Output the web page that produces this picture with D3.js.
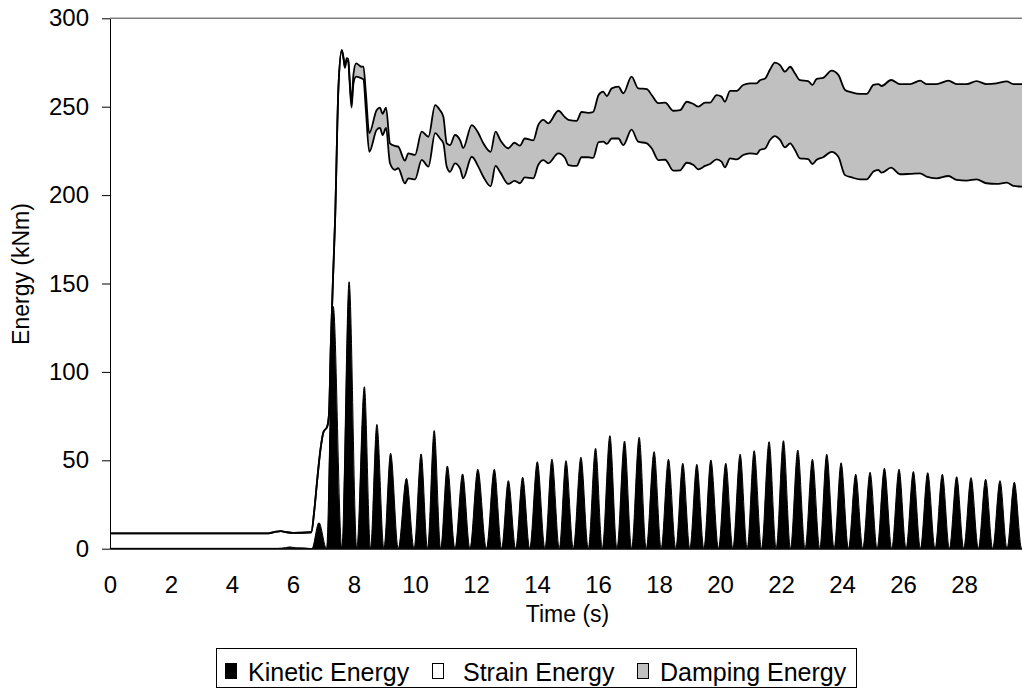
<!DOCTYPE html>
<html>
<head>
<meta charset="utf-8">
<script src="https://cdn.jsdelivr.net/npm/d3@7"></script>
<style>
  body { margin: 0; background: #fff; }
  svg { display: block; font-family: "Liberation Sans", Arial, sans-serif; }
</style>
</head>
<body>
<svg width="1022" height="689"></svg>
<script>
// sample times (s) for the two upper curves
const lineTime = [0, 5.2, 5.45, 5.6, 5.8, 6.0, 6.6, 6.7, 6.8, 6.9, 7.0, 7.12, 7.18, 7.24, 7.31, 7.38, 7.49,
  7.6, 7.66, 7.7, 7.76, 7.81, 7.86, 7.92, 7.98, 8.07, 8.25, 8.31, 8.39, 8.5, 8.74, 8.85, 8.94, 9.05,
  9.18, 9.34, 9.45, 9.67, 9.78, 10.0, 10.22, 10.44, 10.66, 10.82, 10.93, 11.04, 11.15, 11.31, 11.48,
  11.58, 11.86, 12.08, 12.24, 12.48, 12.64, 12.8, 13.06, 13.26, 13.44, 13.6, 13.88, 14.04, 14.21,
  14.37, 14.7, 14.92, 15.03, 15.3, 15.46, 15.68, 15.84, 16.02, 16.17, 16.29, 16.45, 16.67, 16.83,
  17.1, 17.32, 17.6, 17.76, 17.98, 18.2, 18.47, 18.69, 18.91, 19.13, 19.29, 19.51, 19.67, 19.89,
  20.05, 20.16, 20.33, 20.55, 20.76, 20.98, 21.2, 21.31, 21.48, 21.64, 21.8, 21.97, 22.13, 22.3,
  22.46, 22.62, 22.89, 23.03, 23.17, 23.38, 23.66, 23.88, 24.1, 24.32, 24.59, 24.81, 25.03, 25.19,
  25.3, 25.61, 25.9, 26.23, 26.56, 26.77, 27.1, 27.49, 27.76, 28.09, 28.41, 28.74, 29.07, 29.4,
  29.62, 29.9, 30.0];

// kinetic + strain energy (top of the white band), kNm
const mechanicalEnergy = [8.7, 8.7, 9.6, 9.9, 9.3, 9.0, 9.3, 22, 40, 56, 66, 69, 76, 115, 152, 186, 261,
  282, 276.5, 272, 276, 275.5, 263, 249.5, 263, 267, 266, 265.4, 248, 224.5, 236.8, 238, 234, 238,
  218, 214.3, 215.2, 206.6, 209.5, 208.9, 219.9, 216.1, 235, 232, 229.3, 216.1, 213.2, 218, 215,
  209.5, 221.7, 216, 210.4, 205, 216.5, 212.7, 206.3, 208, 206.7, 210, 209.5, 217, 219.8,
  218, 223.6, 221, 217, 216.5, 221.4, 221.4, 221, 230, 230.2, 229, 232, 232, 228.3,
  237, 230.2, 229.3, 226.5, 219.8, 220, 213.8, 214, 218.3, 217, 214.6, 216.5, 217.6, 220.2,
  218.9, 215.7, 220.8, 220.2, 222.7, 223.6, 223.2, 225.5, 226.4, 231.2, 233.4, 231.2, 227, 229.3,
  225.5, 220.8, 220.4, 217.6, 220, 221.4, 224.5, 221.7, 211.3, 210, 208.9, 208.9, 213.3, 214.2,
  212.7, 215.5, 211.8, 212, 212.3, 210.5, 209.5, 210.8, 208.6, 208.2, 208.9, 206.7, 206.3, 207,
  205.2, 204.8, 205];

// kinetic + strain + damping energy (top of the grey band), kNm
const totalEnergy = [8.7, 8.7, 9.6, 9.9, 9.3, 9.0, 9.3, 22, 40, 56, 66, 69, 76, 115, 152, 186, 261,
  282, 277.5, 273, 277.5, 277, 265, 251.5, 268, 274.5, 272.6, 272.7, 257.5, 235, 248, 249.5, 246, 249.5,
  229.3, 227.8, 227.4, 219.5, 223.6, 222.7, 235.9, 233, 250.9, 248, 244.3, 229.3, 228.3, 234, 231,
  226.6, 239.6, 235, 229.3, 224.5, 235.9, 231, 226.5, 229.6, 228, 232, 231, 239.6, 242.5,
  240.6, 247.7, 244, 242.5, 242, 247, 246.5, 247, 256.6, 258.5, 256, 260.4, 261.3, 257.6,
  267, 260.4, 260, 256.6, 252, 252.3, 247.7, 248, 252.8, 251.5, 250, 252.3, 252.3, 256.6,
  255.7, 252.8, 259, 259, 262.3, 263.2, 263.2, 265, 266, 271, 274.9, 273.5, 269.8, 272.6,
  268.8, 265, 264.5, 262.3, 265.7, 266.3, 270.4, 268, 259.5, 258.1, 257.2, 257.2, 262.3, 262.8,
  261.7, 265.1, 262.8, 262.8, 264.7, 262.8, 262.8, 264.7, 262.8, 262.8, 264.5, 262.8, 263.2, 264.3,
  262.8, 262.8, 263];

// kinetic energy: troughs and peaks of the oscillation
const kineticTime = [0, 5.5, 5.75, 5.9, 6.1, 6.4, 6.62, 6.85, 7.1, 7.32, 7.6, 7.84, 8.09, 8.34, 8.54,
  8.75, 8.98, 9.2, 9.45, 9.72, 9.97, 10.2, 10.41, 10.63, 10.84, 11.06, 11.31, 11.56, 11.8, 12.06,
  12.34, 12.6, 12.84, 13.06, 13.3, 13.53, 13.76, 14.01, 14.26, 14.49, 14.73, 14.95, 15.19, 15.44,
  15.68, 15.92, 16.14, 16.39, 16.62, 16.87, 17.1, 17.35, 17.58, 17.84, 18.07, 18.31, 18.55, 18.78,
  19.01, 19.24, 19.47, 19.7, 19.95, 20.19, 20.42, 20.66, 20.89, 21.12, 21.36, 21.61, 21.84, 22.08,
  22.31, 22.55, 22.79, 23.03, 23.27, 23.5, 23.74, 23.97, 24.21, 24.45, 24.68, 24.92, 25.15, 25.39,
  25.63, 25.87, 26.1, 26.34, 26.57, 26.81, 27.05, 27.29, 27.52, 27.76, 27.99, 28.23, 28.47, 28.71,
  28.94, 29.18, 29.41, 29.65, 29.89, 30.12];
const kineticEnergy = [0.2, 0.2, 0.6, 1.0, 0.5, 0.4, 0, 14.7, 0, 137, 0, 151, 0, 91.6, 0,
  70.3, 0, 54, 0, 39.8, 0, 53.6, 0, 66.8, 0, 46.8, 0, 42.3, 0, 44.9,
  0, 44.9, 0, 38.5, 0, 40.4, 0, 49.2, 0, 50.6, 0, 49.8, 0, 51.7,
  0, 56.8, 0, 63.9, 0, 60.9, 0, 63, 0, 54.9, 0, 50.6, 0, 48.3,
  0, 47.7, 0, 50.2, 0, 48.3, 0, 53.4, 0, 55.4, 0, 60.5, 0, 61.1,
  0, 55.8, 0, 50.6, 0, 53.4, 0, 48.6, 0, 42.1, 0, 43.2, 0, 45.5,
  0, 44.9, 0, 43.6, 0, 43, 0, 42.1, 0, 40.7, 0, 40.2, 0, 39.3,
  0, 38.5, 0, 37.6, 0, 37];

const xTicks = d3.range(0, 29, 2);
const yTicks = [0, 50, 100, 150, 200, 250, 300];
const legendNames = ["Kinetic Energy", "Strain Energy", "Damping Energy"];
const legendFills = ["#000000", "#ffffff", "#c0c0c0"];

const svg = d3.select("svg");
const area = { left: 110, right: 1025, top: 18.3, bottom: 548.7 };

const scX = d3.scaleLinear().domain([0, 30]).range([area.left, area.right]);
const scY = d3.scaleLinear().domain([0, 300]).range([area.bottom, area.top]);

const lineRows = lineTime.map((t, i) => ({ t, mech: mechanicalEnergy[i], total: totalEnergy[i] }));
const kinRows = kineticTime.map((t, i) => ({ t, v: kineticEnergy[i] }));

const plot = svg.append("g");
const curve = d3.curveMonotoneX;

// grey band (damping) then white band (strain) then black spikes (kinetic)
plot.append("path")
  .datum(lineRows)
  .attr("fill", "#c0c0c0")
  .attr("d", d3.area().curve(curve).x(d => scX(d.t)).y0(scY(0)).y1(d => scY(d.total)));
plot.append("path")
  .datum(lineRows)
  .attr("fill", "#ffffff")
  .attr("d", d3.area().curve(curve).x(d => scX(d.t)).y0(scY(0)).y1(d => scY(d.mech)));
plot.append("path")
  .datum(kinRows)
  .attr("fill", "#000000")
  .attr("stroke", "#000")
  .attr("stroke-width", 1)
  .attr("d", d3.area().curve(curve).x(d => scX(d.t)).y0(scY(0)).y1(d => scY(d.v)));

plot.append("path")
  .datum(lineRows)
  .attr("fill", "none").attr("stroke", "#000").attr("stroke-width", 1.8)
  .attr("d", d3.line().curve(curve).x(d => scX(d.t)).y(d => scY(d.total)));
plot.append("path")
  .datum(lineRows)
  .attr("fill", "none").attr("stroke", "#000").attr("stroke-width", 1.8)
  .attr("d", d3.line().curve(curve).x(d => scX(d.t)).y(d => scY(d.mech)));

// plot area top border
svg.append("line")
  .attr("x1", area.left).attr("x2", area.right)
  .attr("y1", area.top).attr("y2", area.top)
  .attr("stroke", "#808080").attr("stroke-width", 1.5);

// axes
const axY = svg.append("g")
  .attr("transform", `translate(${area.left},0)`)
  .call(d3.axisLeft(scY).tickValues(yTicks).tickSize(8).tickPadding(13).tickSizeOuter(0));
axY.select(".domain").attr("stroke", "#000");
axY.selectAll("text").attr("font-size", 24).attr("fill", "#000")
  .style("font-family", '"Liberation Sans", Arial, sans-serif');

const axX = svg.append("g")
  .attr("transform", `translate(0,${area.bottom})`)
  .call(d3.axisBottom(scX).tickValues(xTicks).tickSize(0).tickPadding(27).tickSizeOuter(0));
axX.select(".domain").attr("stroke", "#000");
axX.selectAll("text").attr("font-size", 24).attr("fill", "#000")
  .style("font-family", '"Liberation Sans", Arial, sans-serif');

svg.append("text")
  .attr("x", (area.left + area.right) / 2).attr("y", 622)
  .attr("text-anchor", "middle").attr("font-size", 23)
  .text("Time (s)");

svg.append("text")
  .attr("transform", "translate(29,274) rotate(-90)")
  .attr("text-anchor", "middle").attr("font-size", 23)
  .text("Energy (kNm)");

// legend
const leg = svg.append("g");
leg.append("rect")
  .attr("x", 216.5).attr("y", 648.5).attr("width", 640).attr("height", 39)
  .attr("fill", "#fff").attr("stroke", "#000").attr("stroke-width", 1);
const keyX = [225, 432, 637];
const textX = [248, 463, 660];
legendNames.forEach((name, i) => {
  leg.append("rect")
    .attr("x", keyX[i] + 0.5).attr("y", 663.5).attr("width", 11).attr("height", 15)
    .attr("fill", legendFills[i]).attr("stroke", "#000").attr("stroke-width", 1);
  leg.append("text")
    .attr("x", textX[i]).attr("y", 681)
    .attr("font-size", 25)
    .text(name);
});
</script>
</body>
</html>
